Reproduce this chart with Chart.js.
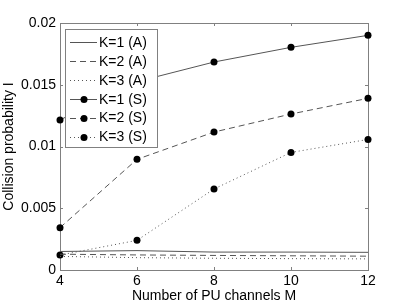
<!DOCTYPE html>
<html>
<head>
<meta charset="utf-8">
<script src="https://cdn.jsdelivr.net/npm/chart.js@4"></script>
<style>
  html, body { margin: 0; padding: 0; background: #fff; }
  canvas { display: block; }
</style>
</head>
<body>
<canvas id="chart" width="407" height="306"></canvas>
<script>
// x axis: number of PU channels
const channels = [4, 6, 8, 10, 12];

// analytical results
const k1A = [0.00150, 0.00157, 0.00145, 0.00145, 0.00143];
const k2A = [0.00128, 0.00122, 0.00118, 0.00115, 0.00112];
const k3A = [0.00110, 0.00100, 0.00095, 0.00092, 0.00090];

// simulation results
const k1S = [0.01215, 0.01525, 0.01684, 0.01803, 0.01900];
const k2S = [0.00343, 0.00896, 0.01117, 0.01263, 0.01390];
const k3S = [0.00121, 0.00240, 0.00656, 0.00952, 0.01057];

const seriesLabels = ['K=1 (A)', 'K=2 (A)', 'K=3 (A)', 'K=1 (S)', 'K=2 (S)', 'K=3 (S)'];
const xTicks = [4, 6, 8, 10, 12];
const yTicks = [0, 0.005, 0.01, 0.015, 0.02];

const FONT = 'Liberation Sans, Arial, Helvetica, sans-serif';
const LINE = '#555';
const FRAME = '#808080';
const dashes = [[], [6, 4], [1, 3]];

function pts(ys) {
  return ys.map((y, i) => ({ x: channels[i], y: y }));
}

function series(label, ys, style, marker) {
  return {
    label: label,
    data: pts(ys),
    borderColor: LINE,
    borderWidth: 1,
    borderDash: dashes[style],
    backgroundColor: '#000',
    pointRadius: marker ? 3.5 : 0,
    pointBackgroundColor: '#000',
    pointBorderColor: '#000',
    pointBorderWidth: 0,
    tension: 0,
    clip: false
  };
}

const datasets = [
  series(seriesLabels[0], k1A, 0, false),
  series(seriesLabels[1], k2A, 1, false),
  series(seriesLabels[2], k3A, 2, false),
  series(seriesLabels[3], k1S, 0, true),
  series(seriesLabels[4], k2S, 1, true),
  series(seriesLabels[5], k3S, 2, true)
];

// matlab style box with inward ticks
const framePlugin = {
  id: 'frame',
  beforeDatasetsDraw(chart) {
    const { ctx, chartArea: a, scales } = chart;
    ctx.save();
    ctx.strokeStyle = FRAME;
    ctx.lineWidth = 1;
    ctx.strokeRect(a.left + 0.5, a.top + 0.5, a.right - a.left, a.bottom - a.top);
    ctx.beginPath();
    xTicks.forEach(v => {
      const x = Math.round(scales.x.getPixelForValue(v)) + 0.5;
      ctx.moveTo(x, a.bottom); ctx.lineTo(x, a.bottom - 3);
      ctx.moveTo(x, a.top); ctx.lineTo(x, a.top + 3);
    });
    yTicks.forEach(v => {
      const y = Math.round(scales.y.getPixelForValue(v)) + 0.5;
      ctx.moveTo(a.left, y); ctx.lineTo(a.left + 3, y);
      ctx.moveTo(a.right, y); ctx.lineTo(a.right - 3, y);
    });
    ctx.stroke();
    ctx.restore();
  }
};

// legend box in the upper left corner of the axes
const legendPlugin = {
  id: 'boxLegend',
  afterDatasetsDraw(chart) {
    const { ctx, chartArea: a } = chart;
    const x0 = a.left + 5, y0 = a.top + 6, w = 92, h = 118, rowH = 18.9;
    ctx.save();
    ctx.fillStyle = '#fff';
    ctx.fillRect(x0, y0, w, h);
    ctx.strokeStyle = FRAME;
    ctx.lineWidth = 1;
    ctx.strokeRect(x0 + 0.5, y0 + 0.5, w, h);
    ctx.font = '14px ' + FONT;
    ctx.textBaseline = 'middle';
    chart.data.datasets.forEach((ds, i) => {
      const y = y0 + 13 + i * rowH;
      ctx.strokeStyle = ds.borderColor;
      ctx.setLineDash(ds.borderDash);
      ctx.beginPath();
      ctx.moveTo(x0 + 5, Math.round(y) + 0.5);
      ctx.lineTo(x0 + 32, Math.round(y) + 0.5);
      ctx.stroke();
      ctx.setLineDash([]);
      if (ds.pointRadius > 0) {
        ctx.fillStyle = '#000';
        ctx.beginPath();
        ctx.arc(x0 + 19, Math.round(y) + 0.5, ds.pointRadius, 0, Math.PI * 2);
        ctx.fill();
      }
      ctx.fillStyle = '#000';
      ctx.fillText(ds.label, x0 + 34, y + 1);
    });
    ctx.restore();
  }
};

new Chart(document.getElementById('chart'), {
  type: 'line',
  data: { datasets: datasets },
  options: {
    responsive: false,
    animation: false,
    layout: { padding: { left: 0, top: 23, right: 39, bottom: 0 } },
    plugins: { legend: { display: false }, tooltip: { enabled: false } },
    scales: {
      x: {
        type: 'linear',
        min: 4,
        max: 12,
        afterBuildTicks: s => { s.ticks = xTicks.map(v => ({ value: v })); },
        afterFit: s => { s.height = 36; },
        grid: { display: false, drawTicks: false },
        border: { display: false },
        ticks: { color: '#000', padding: 3, font: { family: FONT, size: 14 } },
        title: {
          display: true,
          text: 'Number of PU channels M',
          color: '#000',
          padding: { top: 0, bottom: 1 },
          font: { family: FONT, size: 14 }
        }
      },
      y: {
        type: 'linear',
        min: 0,
        max: 0.02,
        afterBuildTicks: s => { s.ticks = yTicks.map(v => ({ value: v })); },
        afterFit: s => { s.width = 60; },
        grid: { display: false, drawTicks: false },
        border: { display: false },
        ticks: {
          color: '#000',
          padding: 4,
          font: { family: FONT, size: 14 },
          callback: v => String(v)
        },
        title: {
          display: true,
          text: 'Collision probability I',
          color: '#000',
          padding: { top: 1, bottom: 0 },
          font: { family: FONT, size: 14 }
        }
      }
    }
  },
  plugins: [framePlugin, legendPlugin]
});
</script>
</body>
</html>
